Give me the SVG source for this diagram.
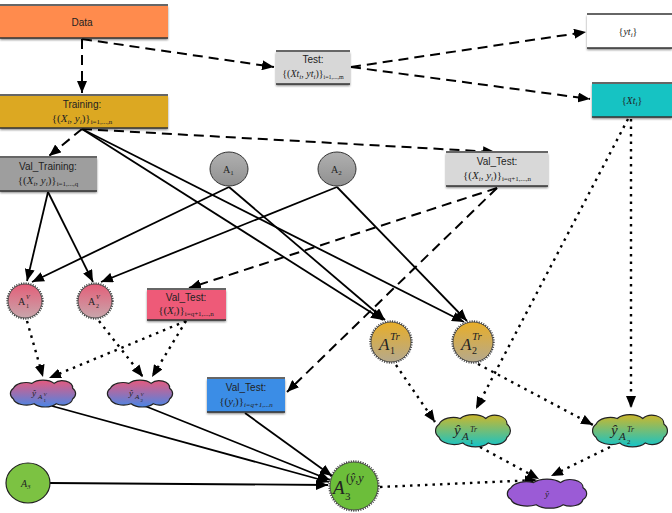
<svg xmlns="http://www.w3.org/2000/svg" width="672" height="513" viewBox="0 0 672 513">
<style>
.lbl{font-family:"Liberation Sans","Helvetica",Arial,sans-serif;font-size:10px;fill:#222;text-anchor:middle}
.m{font-family:"Liberation Serif","DejaVu Serif",serif;font-size:11px;fill:#222;text-anchor:middle}
.mt{font-family:"Liberation Serif","DejaVu Serif",serif;fill:#222}
.i{font-style:italic}
.s{font-size:7px}
.top{stroke:#666;stroke-width:2}
.bot{stroke:#333;stroke-width:1.5}
.sol{fill:none;stroke:#000;stroke-width:1.8;marker-end:url(#ar)}
.dsh{fill:none;stroke:#000;stroke-width:2;stroke-dasharray:10 6;marker-end:url(#ar)}
.dot{fill:none;stroke:#000;stroke-width:2.4;stroke-dasharray:2.5 5;marker-end:url(#ar)}
.ring{fill:none;stroke:#444;stroke-width:1.8;stroke-dasharray:1.1 1.3}
.edge{stroke:#333;stroke-width:0.8}
.cl{stroke:#222;stroke-width:1.2;vector-effect:non-scaling-stroke}
</style>
<defs>
<marker id="ar" markerUnits="userSpaceOnUse" markerWidth="13" markerHeight="10" refX="12" refY="5" orient="auto">
<path d="M0,0 L12,5 L0,10 z" fill="#000"/>
</marker>
<filter id="sh" x="-10%" y="-20%" width="120%" height="160%">
<feDropShadow dx="0" dy="2" stdDeviation="1.2" flood-color="#000" flood-opacity="0.45"/>
</filter>
<linearGradient id="gV" x1="0" y1="0" x2="0" y2="1"><stop offset="0" stop-color="#E45E78"/><stop offset="1" stop-color="#C8A6AC"/></linearGradient>
<linearGradient id="gT" x1="0" y1="0" x2="0" y2="1"><stop offset="0" stop-color="#E8AE28"/><stop offset="1" stop-color="#B5A98C"/></linearGradient>
<linearGradient id="gA" x1="0" y1="0" x2="0" y2="1"><stop offset="0" stop-color="#B0B0B0"/><stop offset="1" stop-color="#909090"/></linearGradient>
<linearGradient id="gCV" x1="0" y1="0" x2="0" y2="1"><stop offset="0" stop-color="#E65A7E"/><stop offset="1" stop-color="#4A86E6"/></linearGradient>
<linearGradient id="gCT" x1="0" y1="0" x2="0" y2="1"><stop offset="0" stop-color="#CDB72A"/><stop offset="1" stop-color="#14C4C8"/></linearGradient>
<path id="cloud" class="cl" d="M-40,10 a12 12 0 0 1 0,-18 a18 14 0 0 1 25,-8 a18 12 0 0 1 30,0 a14 12 0 0 1 25,8 a12 12 0 0 1 0,18 a14 12 0 0 1 -22,8 a18 12 0 0 1 -30,0 a18 12 0 0 1 -28,-8 z"/>
</defs>

<g id="connectors">
<path class="dsh" d="M82,39 L82,93"/>
<path class="dsh" d="M82,39 L274,67"/>
<path class="dsh" d="M351,67 L586,32"/>
<path class="dsh" d="M351,67 L590,99"/>
<path class="dsh" d="M82,129 L49,156"/>
<path class="dsh" d="M82,129 L495,152"/>
<path class="sol" d="M82,129 L383,320"/>
<path class="sol" d="M82,129 L464,322"/>
<path class="sol" d="M229,187 L385,320"/>
<path class="sol" d="M337,187 L467,321"/>
<path class="sol" d="M229,187 L32,282"/>
<path class="sol" d="M337,187 L101,282"/>
<path class="sol" d="M48,192 L27,281"/>
<path class="sol" d="M48,192 L93,282"/>
<path class="dsh" d="M497,188 L189,288"/>
<path class="dsh" d="M497,188 L287,392"/>
<path class="dot" d="M27,321 L43,377"/>
<path class="dot" d="M186,321 L49,378"/>
<path class="dot" d="M99,321 L143,377"/>
<path class="dot" d="M186,321 L152,377"/>
<path class="dot" d="M628,119 L476,409"/>
<path class="dot" d="M631,119 L631,408"/>
<path class="dot" d="M396,365 L435,422"/>
<path class="dot" d="M478,364 L593,425"/>
<path class="dot" d="M480,447 L539,479"/>
<path class="dot" d="M610,447 L551,476"/>
<path class="dot" d="M380,487 L537,480"/>
<path class="sol" d="M50,483 L328,485"/>
<path class="sol" d="M52,406 L329,482"/>
<path class="sol" d="M145,406 L330,480"/>
<path class="sol" d="M245,413 L332,476"/>
</g>

<g id="data">
<rect x="0" y="5" width="168" height="33" fill="#FF8B4E" filter="url(#sh)"/>
<line class="top" x1="0" y1="5" x2="168" y2="5"/><line class="bot" x1="0" y1="38" x2="168" y2="38"/>
<text class="lbl" x="82" y="26">Data</text>
</g>

<g id="training">
<rect x="0" y="95" width="168" height="33" fill="#DCA823" filter="url(#sh)"/>
<line class="top" x1="0" y1="95" x2="168" y2="95"/><line class="bot" x1="0" y1="128" x2="168" y2="128"/>
<text class="lbl" x="82" y="108">Training:</text>
<text class="m" x="82" y="122">{(<tspan class="i">X</tspan><tspan class="s i" dy="2">i</tspan><tspan dy="-2">, </tspan><tspan class="i">y</tspan><tspan class="s i" dy="2">i</tspan><tspan dy="-2">)}</tspan><tspan class="s" dy="2">i=1,...,n</tspan></text>
</g>

<g id="val_training">
<rect x="0" y="157" width="97" height="34" fill="#9E9E9E" filter="url(#sh)"/>
<line class="top" x1="0" y1="157" x2="97" y2="157"/><line class="bot" x1="0" y1="191" x2="97" y2="191"/>
<text class="lbl" x="48" y="170">Val_Training:</text>
<text class="m" x="48" y="184">{(<tspan class="i">X</tspan><tspan class="s i" dy="2">i</tspan><tspan dy="-2">, </tspan><tspan class="i">y</tspan><tspan class="s i" dy="2">i</tspan><tspan dy="-2">)}</tspan><tspan class="s" dy="2">i=1,...,q</tspan></text>
</g>

<g id="test">
<rect x="276" y="51" width="74" height="33" fill="#D7D7D7" filter="url(#sh)"/>
<line class="top" x1="276" y1="51" x2="350" y2="51"/><line class="bot" x1="276" y1="84" x2="350" y2="84"/>
<text class="lbl" x="313" y="63">Test:</text>
<text class="m" x="313" y="77" style="font-size:10px">{(<tspan class="i">Xt</tspan><tspan class="s i" dy="2">i</tspan><tspan dy="-2">, </tspan><tspan class="i">yt</tspan><tspan class="s i" dy="2">i</tspan><tspan dy="-2">)}</tspan><tspan class="s" dy="2" style="font-size:6px">i=1,...,m</tspan></text>
</g>

<g id="yt">
<rect x="587" y="14" width="85" height="34" fill="#FFFFFF" filter="url(#sh)"/>
<line class="top" x1="587" y1="14" x2="672" y2="14"/><line class="bot" x1="587" y1="48" x2="672" y2="48"/>
<text class="m" x="628" y="35" style="font-size:10px">{<tspan class="i">yt</tspan><tspan class="s i" dy="2">i</tspan><tspan dy="-2">}</tspan></text>
</g>

<g id="xt">
<rect x="592" y="83" width="80" height="34" fill="#14C3C3" filter="url(#sh)"/>
<line class="top" x1="592" y1="83" x2="672" y2="83"/><line class="bot" x1="592" y1="117" x2="672" y2="117"/>
<text class="m" x="632" y="104" style="font-size:10px">{<tspan class="i">Xt</tspan><tspan class="s i" dy="2">i</tspan><tspan dy="-2">}</tspan></text>
</g>

<g id="val_test">
<rect x="446" y="152" width="102" height="34" fill="#D8D8D8" filter="url(#sh)"/>
<line class="top" x1="446" y1="152" x2="548" y2="152"/><line class="bot" x1="446" y1="186" x2="548" y2="186"/>
<text class="lbl" x="497" y="165">Val_Test:</text>
<text class="m" x="497" y="179">{(<tspan class="i">X</tspan><tspan class="s i" dy="2">i</tspan><tspan dy="-2">, </tspan><tspan class="i">y</tspan><tspan class="s i" dy="2">i</tspan><tspan dy="-2">)}</tspan><tspan class="s" dy="2">i=q+1,...,n</tspan></text>
</g>

<g id="a1">
<ellipse cx="229" cy="169" rx="19" ry="17" fill="url(#gA)" stroke="#333" stroke-width="1"/>
<text class="mt" x="223" y="173" font-size="10">A<tspan font-size="7" dy="2">1</tspan></text>
</g>
<g id="a2">
<ellipse cx="337" cy="169" rx="19" ry="17" fill="url(#gA)" stroke="#333" stroke-width="1"/>
<text class="mt" x="331" y="173" font-size="10">A<tspan font-size="7" dy="2">2</tspan></text>
</g>

<g id="a1v">
<circle cx="25" cy="301" r="17" fill="url(#gV)" class="edge"/>
<circle cx="25" cy="301" r="17.8" class="ring"/>
<text class="mt" x="18" y="305" font-size="10">A</text>
<text class="mt i" x="26" y="299" font-size="6">V</text>
<text class="mt" x="26" y="308" font-size="6">1</text>
</g>
<g id="a2v">
<circle cx="95" cy="301" r="17" fill="url(#gV)" class="edge"/>
<circle cx="95" cy="301" r="17.8" class="ring"/>
<text class="mt" x="88" y="305" font-size="10">A</text>
<text class="mt i" x="96" y="299" font-size="6">V</text>
<text class="mt" x="96" y="308" font-size="6">2</text>
</g>

<g id="val_test_x">
<rect x="147" y="289" width="79" height="31" fill="#EE5A78" filter="url(#sh)"/>
<line class="top" x1="147" y1="289" x2="226" y2="289"/><line class="bot" x1="147" y1="320" x2="226" y2="320"/>
<text class="lbl" x="186" y="301">Val_Test:</text>
<text class="m" x="186" y="314">{(<tspan class="i">X</tspan><tspan class="s i" dy="2">i</tspan><tspan dy="-2">)}</tspan><tspan class="s" dy="2">i=q+1,...,n</tspan></text>
</g>

<g id="val_test_y">
<rect x="207" y="378" width="78" height="34" fill="#3B8DE6" filter="url(#sh)"/>
<line class="top" x1="207" y1="378" x2="285" y2="378"/><line class="bot" x1="207" y1="412" x2="285" y2="412"/>
<text class="lbl" x="246" y="391">Val_Test:</text>
<text class="m" x="246" y="405">{(<tspan class="i">y</tspan><tspan class="s i" dy="2">i</tspan><tspan dy="-2">)}</tspan><tspan class="s i" dy="2">i=q+1,...n</tspan></text>
</g>

<g id="a1tr">
<circle cx="391" cy="342" r="20" fill="url(#gT)" class="edge"/>
<circle cx="391" cy="342" r="20.8" class="ring"/>
<text class="mt i" x="379" y="350" font-size="17">A</text>
<text class="mt i" x="390" y="340" font-size="11">Tr</text>
<text class="mt" x="390" y="354" font-size="10">1</text>
</g>
<g id="a2tr">
<circle cx="473" cy="342" r="20" fill="url(#gT)" class="edge"/>
<circle cx="473" cy="342" r="20.8" class="ring"/>
<text class="mt i" x="461" y="350" font-size="17">A</text>
<text class="mt i" x="472" y="340" font-size="11">Tr</text>
<text class="mt" x="472" y="354" font-size="10">2</text>
</g>

<g id="yhat_a1v">
<use href="#cloud" transform="translate(43,393) scale(0.74,0.6)" fill="url(#gCV)"/>
<text class="mt i" x="32" y="396" font-size="9">ŷ</text>
<text class="mt i" x="38" y="399" font-size="7">A</text>
<text class="mt i" x="43.5" y="396" font-size="5">V</text>
<text class="mt" x="43.5" y="401.5" font-size="5">1</text>
</g>
<g id="yhat_a2v">
<use href="#cloud" transform="translate(140,393) scale(0.74,0.6)" fill="url(#gCV)"/>
<text class="mt i" x="129" y="396" font-size="9">ŷ</text>
<text class="mt i" x="135" y="399" font-size="7">A</text>
<text class="mt i" x="140.5" y="396" font-size="5">V</text>
<text class="mt" x="140.5" y="401.5" font-size="5">2</text>
</g>

<g id="yhat_a1tr">
<use href="#cloud" transform="translate(473,430) scale(0.85,0.72)" fill="url(#gCT)"/>
<text class="mt i" x="454" y="435" font-size="15">ŷ</text>
<text class="mt i" x="462" y="440" font-size="11">A</text>
<text class="mt i" x="470" y="432" font-size="8">Tr</text>
<text class="mt" x="470" y="444" font-size="7">1</text>
</g>
<g id="yhat_a2tr">
<use href="#cloud" transform="translate(630,430) scale(0.85,0.72)" fill="url(#gCT)"/>
<text class="mt i" x="611" y="435" font-size="15">ŷ</text>
<text class="mt i" x="619" y="440" font-size="11">A</text>
<text class="mt i" x="627" y="432" font-size="8">Tr</text>
<text class="mt" x="627" y="444" font-size="7">2</text>
</g>

<g id="yhat">
<use href="#cloud" transform="translate(547,493) scale(0.9,0.65)" fill="#9B5BD6"/>
<text class="mt i" x="547" y="497" font-size="9" text-anchor="middle">ŷ</text>
</g>

<g id="a3">
<ellipse cx="28" cy="483" rx="22" ry="20" fill="#7CC242" stroke="#222" stroke-width="1.2"/>
<text class="mt i" x="21" y="487" font-size="10">A<tspan font-size="7" dy="2">3</tspan></text>
</g>

<g id="a3yy">
<circle cx="354" cy="486" r="24" fill="#6CBE3A" class="edge"/>
<circle cx="354" cy="486" r="24.8" class="ring"/>
<text class="mt i" x="333" y="494" font-size="19">A</text>
<text class="mt" x="346" y="482" font-size="12">(<tspan class="i">ŷ</tspan>,<tspan class="i">y</tspan></text>
<text class="mt" x="345" y="500" font-size="11">3</text>
</g>
</svg>
